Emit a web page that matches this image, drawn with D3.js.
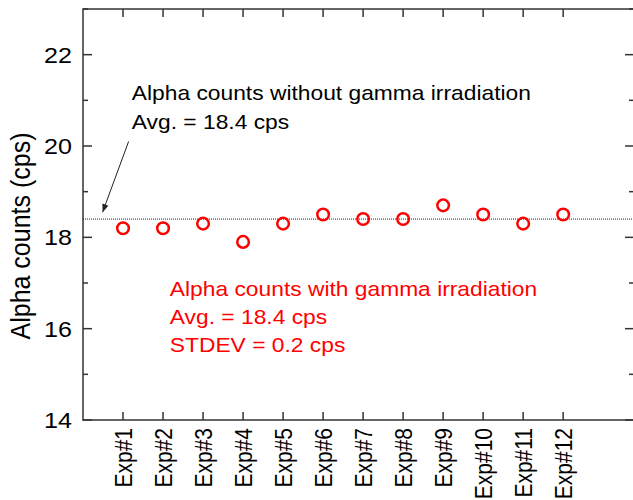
<!DOCTYPE html>
<html>
<head>
<script src="https://d3js.org/d3.v7.min.js"></script>
<style>
  body { margin: 0; background: #fff; }
  svg text { font-family: "Liberation Sans", Arial, sans-serif; }
</style>
</head>
<body>
<svg id="chart" width="633" height="500"></svg>
<script>
// data
const experiments = ["Exp#1","Exp#2","Exp#3","Exp#4","Exp#5","Exp#6","Exp#7","Exp#8","Exp#9","Exp#10","Exp#11","Exp#12"];
const counts = [18.2, 18.2, 18.3, 17.9, 18.3, 18.5, 18.4, 18.4, 18.7, 18.5, 18.3, 18.5];
const yTicks = [14, 16, 18, 20, 22];
const yMinor = [15, 17, 19, 21, 23];
const avgWithout = 18.4;
const blackNote = ["Alpha counts without gamma irradiation", "Avg. = 18.4 cps"];
const redNote = ["Alpha counts with gamma irradiation", "Avg. = 18.4 cps", "STDEV = 0.2 cps"];

const svg = d3.select("#chart");
const pLeft = 83, pRight = 634, pTop = 9, pBottom = 420;
const stretch = 1.14;  // the original picture is a bit wider than tall

const x = d3.scaleLinear().domain([0, 13.77]).range([pLeft, pRight]);
const y = d3.scaleLinear().domain([14, 23]).range([pBottom, pTop]);

// frame
svg.append("rect")
  .attr("x", pLeft).attr("y", pTop)
  .attr("width", pRight - pLeft).attr("height", pBottom - pTop)
  .attr("fill", "none").attr("stroke", "#333").attr("stroke-width", 1.5);

// ticks (inward, all sides)
const tk = svg.append("g").attr("stroke", "#333").attr("stroke-width", 1.5);
yTicks.forEach(v => {
  tk.append("line").attr("x1", pLeft).attr("x2", pLeft + 9).attr("y1", y(v)).attr("y2", y(v));
  tk.append("line").attr("x1", pRight).attr("x2", pRight - 9).attr("y1", y(v)).attr("y2", y(v));
});
yMinor.forEach(v => {
  tk.append("line").attr("x1", pLeft).attr("x2", pLeft + 5).attr("y1", y(v)).attr("y2", y(v));
  tk.append("line").attr("x1", pRight).attr("x2", pRight - 5).attr("y1", y(v)).attr("y2", y(v));
});
experiments.forEach((e, i) => {
  tk.append("line").attr("x1", x(i + 1)).attr("x2", x(i + 1)).attr("y1", pBottom).attr("y2", pBottom - 8);
  tk.append("line").attr("x1", x(i + 1)).attr("x2", x(i + 1)).attr("y1", pTop).attr("y2", pTop + 8);
});

// y tick labels
svg.append("g").selectAll("text").data(yTicks).enter().append("text")
  .attr("transform", d => "translate(72," + y(d) + ") scale(" + stretch + ",1)")
  .attr("text-anchor", "end").attr("dy", "0.36em")
  .style("font-size", "22px").attr("fill", "#000")
  .text(d => d);

// x tick labels (rotated)
svg.append("g").selectAll("text").data(experiments).enter().append("text")
  .attr("transform", (d, i) => "translate(" + x(i + 1) + ",428) scale(" + stretch + ",1) rotate(-90)")
  .attr("text-anchor", "end").attr("dy", "0.36em")
  .style("font-size", "21px").attr("fill", "#000")
  .text(d => d);

// y axis title
svg.append("text")
  .attr("transform", "translate(30," + 236 + ") scale(" + stretch + ",1) rotate(-90)")
  .attr("text-anchor", "middle")
  .style("font-size", "25px").attr("fill", "#000")
  .text("Alpha counts (cps)");

// average line without gamma
svg.append("line")
  .attr("x1", pLeft).attr("x2", pRight)
  .attr("y1", y(avgWithout)).attr("y2", y(avgWithout))
  .attr("stroke", "#222").attr("stroke-width", 1).attr("stroke-dasharray", "1,1");

// points
svg.append("g").selectAll("circle").data(counts).enter().append("circle")
  .attr("cx", (d, i) => x(i + 1)).attr("cy", d => y(d))
  .attr("r", 5.8)
  .attr("fill", "none").attr("stroke", "#ff0000").attr("stroke-width", 2.5);

// arrow
svg.append("defs").append("marker")
  .attr("id", "arr").attr("viewBox", "0 0 10 10")
  .attr("refX", 10).attr("refY", 5)
  .attr("markerWidth", 10).attr("markerHeight", 8)
  .attr("markerUnits", "userSpaceOnUse")
  .attr("orient", "auto")
  .append("path").attr("d", "M0,1 L10,5 L0,9 Z").attr("fill", "#222");
svg.append("line")
  .attr("x1", x(1.14)).attr("y1", y(20.1))
  .attr("x2", x(0.49)).attr("y2", y(18.55))
  .attr("stroke", "#222").attr("stroke-width", 1)
  .attr("marker-end", "url(#arr)");

// notes
svg.append("g").selectAll("text").data(blackNote).enter().append("text")
  .attr("transform", (d, i) => "translate(" + x(1.22) + "," + y(21.01 - i * 0.63) + ") scale(" + stretch + ",1)")
  .style("font-size", "20px").attr("fill", "#000")
  .text(d => d);

svg.append("g").selectAll("text").data(redNote).enter().append("text")
  .attr("transform", (d, i) => "translate(" + x(2.17) + "," + y(16.71 - i * 0.61) + ") scale(" + stretch + ",1)")
  .style("font-size", "20px").attr("fill", "#ff0000")
  .text(d => d);
</script>
</body>
</html>
